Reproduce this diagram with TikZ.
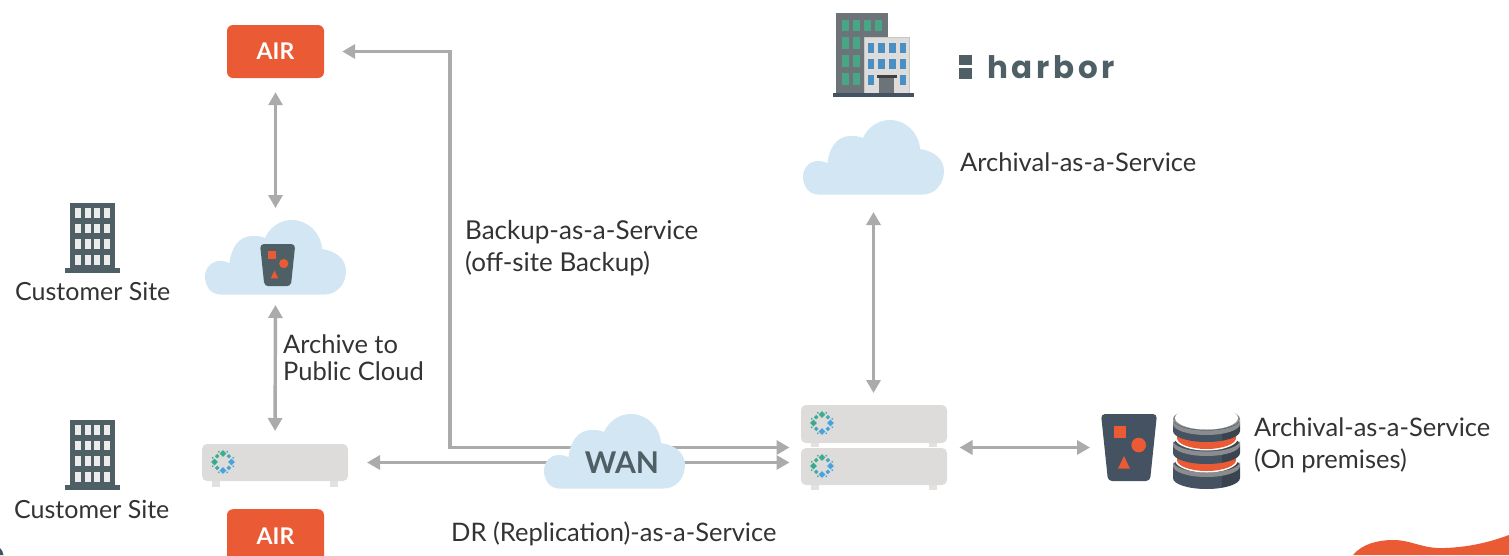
\documentclass[tikz,border=0pt]{standalone}
\usepackage{fontspec}
\setmainfont{Lato}
\newfontfamily\logofont[LetterSpace=12]{Poppins}
\usetikzlibrary{arrows.meta}
\definecolor{orng}{HTML}{EA5B35}
\definecolor{cloudc}{HTML}{D2E7F3}
\definecolor{arrowc}{HTML}{ABABAB}
\definecolor{slate}{HTML}{4F5F66}
\definecolor{navy}{HTML}{445261}
\definecolor{navydark}{HTML}{3A4450}
\definecolor{rimc}{HTML}{8A8C8E}
\definecolor{srv}{HTML}{DDDCDB}
\definecolor{txtc}{HTML}{333333}
\definecolor{wingreen}{HTML}{48A585}
\definecolor{winblue}{HTML}{4A8FC4}
\definecolor{towerc}{HTML}{6C7479}
\tikzset{
  link/.style={draw=arrowc,line width=3.4pt,{Triangle[length=13pt,width=14pt]}-{Triangle[length=13pt,width=14pt]}},
  lbl/.style={anchor=base west,inner sep=0pt,text=txtc,font=\fontsize{25.5}{32}\selectfont,align=left},
  airbox/.style={fill=orng,rounded corners=6pt,minimum width=97pt,minimum height=53pt,inner sep=0pt,text=white,font=\fontsize{23}{23}\selectfont\bfseries},
  ghost/.style={inner sep=0pt,outer sep=0pt},
}
\newcommand{\cloudshape}[2]{%
  \fill[cloudc,shift={(#1,#2)}] (15,74.5) .. controls (6,74.5) and (0,66) .. (0,57)
    .. controls (0,48) and (6,41) .. (15,41) .. controls (19,41) and (22,42) .. (24.5,43)
    .. controls (26,28) and (34,16) .. (47,16) .. controls (52,16) and (56,16) .. (60,18)
    .. controls (65,7) and (75,0) .. (87,0) .. controls (103,0) and (116,13) .. (117,29)
    .. controls (131,31) and (141,39) .. (141,51) .. controls (141,65) and (131,74.5) .. (120,74.5) -- cycle;}
\newcommand{\ringlogo}[2]{%
  \begin{scope}[shift={(#1,#2)}]
    \foreach \a/\c in {90/3AAE8E,180/38A98F,270/47A3DC,0/47A3DC}
      {\definecolor{dc}{HTML}{\c}\fill[dc,rotate=\a] (8.5,-3.4) -- (11.9,0) -- (8.5,3.4) -- (5.1,0) -- cycle;}
    \foreach \a/\c in {45/47A9C0,135/3AAE8E,225/3FA8B0,315/47A3DC}
      {\definecolor{dc}{HTML}{\c}\fill[dc,rotate=\a] (6.7,-1.6) rectangle (9.9,1.6);}
    \foreach \a/\c in {22/47A9C0,68/3FA8B0,112/3AAE8E,158/3AAE8E,202/3AAE8E,248/3FA8B0,292/47A3DC,338/47A3DC}
      {\definecolor{dc}{HTML}{\c}\fill[dc,rotate=\a] (10.4,-.7) rectangle (11.8,.7);}
  \end{scope}}
\newcommand{\serverbody}[4]{% x, ytop, ybottom, foot bottom
  \fill[srv!85!white] (#1+10,#3-3) rectangle (#1+18,#4);
  \fill[srv!85!white] (#1+128,#3-3) rectangle (#1+136,#4);
  \fill[srv,rounded corners=5pt] (#1,#2) rectangle (#1+146,#3);}
\newcommand{\bucketcol}{navy}
\newcommand{\bucketshape}[3]{% x,y,scale
  \begin{scope}[shift={(#1,#2)},scale=#3]
    \fill[\bucketcol,rounded corners=4pt] (0,0) -- (56,0) -- (49,67) -- (7,67) -- cycle;
    \fill[orng] (13,11.7) rectangle (25,23.7);
    \fill[orng] (37.7,31) circle (7.3);
    \fill[orng] (17,54.7) -- (29,54.7) -- (23,42) -- cycle;
  \end{scope}}
\newcommand{\slimtower}[2]{%
  \begin{scope}[shift={(#1,#2)}]
    \fill[slate] (5,0) rectangle (50,66);
    \fill[slate] (0,65) rectangle (55,70);
    \foreach \i in {0,1,2,3} \foreach \j in {0,1,2,3}
      {\fill[gray!15] ({10+\i*9.7},{5+\j*15.7}) rectangle ({16+\i*9.7},{14.5+\j*15.7});}
  \end{scope}}
% one stacked disk: #1 = y of the sides' top, #2 = side height
\newcommand{\dbdisk}[2]{%
  \begin{scope}
    \clip (1173,#1) -- (1173,#1+#2) arc[start angle=180,end angle=360,x radius=33.5,y radius=-11] -- (1240,#1) arc[start angle=0,end angle=180,x radius=33.5,y radius=-11] -- cycle;
    \fill[navy] (1170,#1-12) rectangle (1222,#1+#2+12);
    \fill[navydark] (1222,#1-12) rectangle (1242,#1+#2+12);
  \end{scope}
  \fill[rimc] (1173,#1) arc[start angle=180,end angle=360,x radius=33.5,y radius=-11] -- ++(0,-4.5) arc[start angle=0,end angle=-180,x radius=33.5,y radius=-11] -- cycle;
}
% the gap between two disks: white rim and orange core
\newcommand{\dbband}[1]{%
  \fill[white] (1175,#1) arc[start angle=180,end angle=360,x radius=31.5,y radius=-12.5] -- ++(0,-6) -- (1175,#1-6) -- cycle;
  \fill[orng] (1177,#1) arc[start angle=180,end angle=360,x radius=29.5,y radius=-11] -- ++(0,-6) -- (1177,#1-6) -- cycle;
}
\begin{document}
\begin{tikzpicture}[x=1pt,y=-1pt]
\useasboundingbox (0,0) rectangle (1509,555);
\clip (0,0) rectangle (1509,555);
% positions used by connectors
\node[airbox] (airTop) at (275.5,51.5) {AIR};
\node[airbox,anchor=north] (airBottom) at (275.5,509) {AIR};
\node[ghost,minimum width=141pt,minimum height=75pt] (cloudBucket) at (275.5,257.5) {};
\node[ghost,minimum width=141pt,minimum height=75pt] (cloudArchive) at (873.5,157.5) {};
\node[ghost,minimum width=146pt,minimum height=37pt] (srvLeft) at (275,462.5) {};
\node[ghost,minimum width=146pt,minimum height=85pt] (srvRight) at (873.5,447.5) {};
\node[ghost,minimum width=56pt,minimum height=67pt] (bucketBig) at (1129,447.5) {};
\coordinate (bend) at (450,51.5);
% connectors
\draw[link,shorten <=14pt,shorten >=12pt] (airTop.south) -- (cloudBucket.north);
\draw[link,shorten <=10pt,shorten >=13pt] (cloudBucket.south) -- (srvLeft.north);
\draw[link,shorten <=18pt,shorten >=11pt,line join=miter] (airTop.east) -- (bend) -- (bend |- srvRight.west) -- (srvRight.west);
\draw[link,shorten <=19pt,shorten >=11pt] (srvLeft.east) -- (srvLeft.east -| srvRight.west);
\draw[link,shorten <=17pt,shorten >=12pt] (cloudArchive.south) -- (srvRight.north);
\draw[link,shorten <=13pt,shorten >=11pt] (srvRight.east) -- (bucketBig.west);
% clouds
\cloudshape{205}{220}
\cloudshape{803}{120}
\cloudshape{544}{414}
\node[ghost,text=slate,font=\fontsize{30}{30}\selectfont\bfseries] (wanLabel) at (622,463) {WAN};
% small bucket
\renewcommand{\bucketcol}{slate}
\bucketshape{260}{244}{0.63}
% servers
\serverbody{202}{444}{481}{487}
\ringlogo{223}{462}
\serverbody{801}{405}{443}{447}
\serverbody{801}{448}{485}{490}
\ringlogo{822}{423}
\ringlogo{822}{466}
% big bucket and database
\renewcommand{\bucketcol}{navy}
\bucketshape{1101}{414}{1}
\dbdisk{466}{12}
\dbband{460}
\dbdisk{445}{8}
\dbband{438}
\dbdisk{424}{7}
\fill[rimc] (1206.5,419) ellipse[x radius=33.5,y radius=11];
\fill[white] (1206.5,418) ellipse[x radius=31.5,y radius=11.5];
% towers
\slimtower{65}{203}
\slimtower{65}{420}
% office
\fill[towerc] (836,13) rectangle (888,93);
\foreach \i/\j in {0/0,1/0,2/0,3/0,0/1,1/1,0/2,1/2,0/3,1/3}
  {\fill[wingreen] ({841.7+\i*11},{19.5+\j*17.8}) rectangle ({848.7+\i*11},{31.2+\j*17.8});}
\fill[srv,draw=gray!45,line width=.8pt] (864,37.5) rectangle (909,93);
\foreach \i/\j in {0/0,1/0,2/0,3/0,0/1,1/1,2/1,3/1,0/2,3/2}
  {\fill[winblue] ({867.7+\i*10.7},{42.7+\j*16}) rectangle ({874.2+\i*10.7},{53.3+\j*16});}
\fill[towerc] (879,76) rectangle (894,93);
\fill[gray!50!black] (877,75) rectangle (897,77.5);
\fill[navy] (833,92.5) rectangle (914,97);
% harbor logo
\fill[slate] (959,55) rectangle (972,65);
\fill[slate] (959,68) rectangle (972,79);
\node[anchor=base west,inner sep=0pt,text=slate,font=\fontsize{31}{31}\selectfont\logofont\bfseries] (harborLogo) at (987,78.5) {harbor};
% blob
\fill[orng] (1353,555) .. controls (1362,544) and (1378,540) .. (1393,540) .. controls (1412,540) and (1422,549) .. (1445,548) .. controls (1470,547) and (1490,542) .. (1509,535) -- (1509,555) -- cycle;
% corner mark
\fill[navy] (0,555) -- (0,548) .. controls (2,550) and (3,552) .. (3.5,555) -- cycle;
% labels
\node[lbl,font=\fontsize{25}{32}\selectfont] (siteA) at (15,300) {Customer Site};
\node[lbl,font=\fontsize{25}{32}\selectfont] (siteB) at (14,518) {Customer Site};
\node[lbl,anchor=north west,font=\fontsize{26}{32}\selectfont] (backupText) at (465,220) {Backup-as-a-Service\\(off-site Backup)};
\node[lbl,anchor=north west,font=\fontsize{25.5}{27}\selectfont] (archiveText) at (283,335) {Archive to\\Public Cloud};
\node[lbl] (archivalText) at (960,171) {Archival-as-a-Service};
\node[lbl,anchor=north west] (premText) at (1254,418) {Archival-as-a-Service\\(On premises)};
\node[lbl] (drText) at (451,541) {DR (Replication)-as-a-Service};
\end{tikzpicture}
\end{document}
